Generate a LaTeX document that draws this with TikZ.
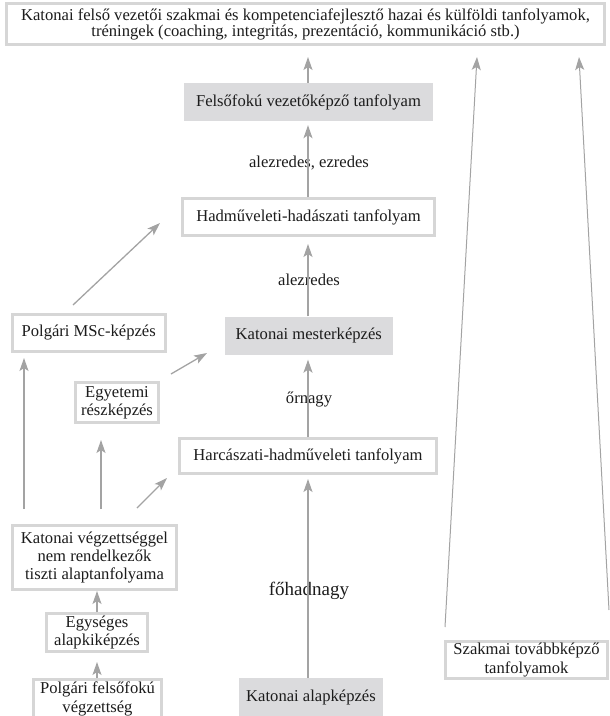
\documentclass[tikz,border=0pt]{standalone}
\usepackage{fontspec}
\setmainfont{Liberation Serif}
\usetikzlibrary{arrows.meta,positioning,calc}
\definecolor{kvline}{RGB}{214,214,214}
\definecolor{kvfill}{RGB}{219,219,221}
\definecolor{kvarrow}{RGB}{163,163,163}
\definecolor{kvtext}{RGB}{28,28,28}
\tikzset{
  wbox/.style={rectangle, draw=kvline, line width=3pt, fill=white, text=kvtext,
               align=center, inner sep=0pt, font=\fontsize{16.6}{18.3}\selectfont},
  gbox/.style={rectangle, draw=none, fill=kvfill, text=kvtext,
               align=center, inner sep=0pt, font=\fontsize{16.6}{18.3}\selectfont},
  karr/.style={-{Stealth[length=13pt,width=9pt,inset=3pt]}, line width=1.3pt, kvarrow},
  rank/.style={text=kvtext, inner sep=0pt, font=\fontsize{16.6}{18.3}\selectfont},
}

\begin{document}
\begin{tikzpicture}[x=1pt,y=-1pt]
        \useasboundingbox (0,0) rectangle (610,716);
        % top box
        \node[wbox,minimum width=598,minimum height=41,font=\fontsize{16.6}{16}\selectfont] (top) at (305.5,24) {Katonai felső vezetői szakmai és kompetenciafejlesztő hazai és külföldi tanfolyamok,\\tréningek (coaching, integritás, prezentáció, kommunikáció stb.)};
        % middle column
        \node[gbox,minimum width=249,minimum height=38] (felso) at (308.5,102) {Felsőfokú vezetőképző tanfolyam};
        \node[wbox,minimum width=252,minimum height=37] (hadm) at (308.5,217) {Hadműveleti-hadászati tanfolyam};
        \node[gbox,minimum width=168,minimum height=38] (mester) at (308.8,335.5) {Katonai mesterképzés};
        \node[wbox,minimum width=257,minimum height=35] (harc) at (308,456) {Harcászati-hadműveleti tanfolyam};
        \node[gbox,minimum width=144,minimum height=38] (alap) at (311,697) {Katonai alapképzés};
        % left column
        \node[wbox,minimum width=153,minimum height=37] (msc) at (88.7,333) {Polgári MSc-képzés};
        \node[wbox,minimum width=83,minimum height=40] (egyetem) at (117,402.5) {Egyetemi\\részképzés};
        \node[wbox,minimum width=164,minimum height=64] (ktvegz) at (94.5,557.5) {Katonai végzettséggel\\nem rendelkezők\\tiszti alaptanfolyama};
        \node[wbox,minimum width=101,minimum height=38] (egyseg) at (97,632.5) {Egységes\\alapkiképzés};
        \node[wbox,minimum width=128,minimum height=39] (polgf) at (97.5,699) {Polgári felsőfokú\\végzettség};
        % right box
        \node[wbox,minimum width=162,minimum height=37] (szakm) at (526.5,660) {Szakmai továbbképző\\tanfolyamok};
        % rank labels
        \node[rank] (r1) at (309,163) {alezredes, ezredes};
        \node[rank] (r2) at (309,280) {alezredes};
        \node[rank] (r3) at (309,400) {őrnagy};
        \node[rank,font=\fontsize{19}{21}\selectfont] (r4) at (309,591) {főhadnagy};
        % free ends
        \coordinate (t1) at (308,57);
        \coordinate (t2) at (477,57);
        \coordinate (t3) at (579,57);
        \coordinate (s2) at (445,627);
        \coordinate (s3) at (609,610);
        \coordinate (m1) at (73,305);  \coordinate (m2) at (160,223);
        \coordinate (e1) at (171,374); \coordinate (e2) at (207,353);
        \coordinate (k1) at (24,509);  \coordinate (k2) at (24,358);
        \coordinate (k3) at (101,509); \coordinate (k4) at (101,440);
        \coordinate (k5) at (137,508); \coordinate (k6) at (167,478);
        % middle arrows
        \draw[karr](felso.north -| t1)--(t1);
        \draw[karr,shorten >=4pt](hadm.north -| t1)--(felso.south -| t1);
        \draw[karr,shorten >=7pt](mester.north -| t1)--(hadm.south -| t1);
        \draw[karr,shorten >=5pt](harc.north -| t1)--(mester.south -| t1);
        \draw[karr,shorten >=4pt](alap.north -| t1)--(harc.south -| t1);
        % left arrows
        \draw[karr](m1)--(m2);\draw[karr](e1)--(e2);
        \draw[karr](k1)--(k2);\draw[karr](k3)--(k4);\draw[karr](k5)--(k6);
        \draw[karr](egyseg.north)--(egyseg.north |- ktvegz.south);
        \draw[karr,shorten >=9pt](polgf.north -| egyseg)--(egyseg.south);
        % right arrows
        \draw[karr,line width=1pt](s2)--(t2);\draw[karr,line width=1pt](s3)--(t3);
    \end{tikzpicture}
\end{document}
